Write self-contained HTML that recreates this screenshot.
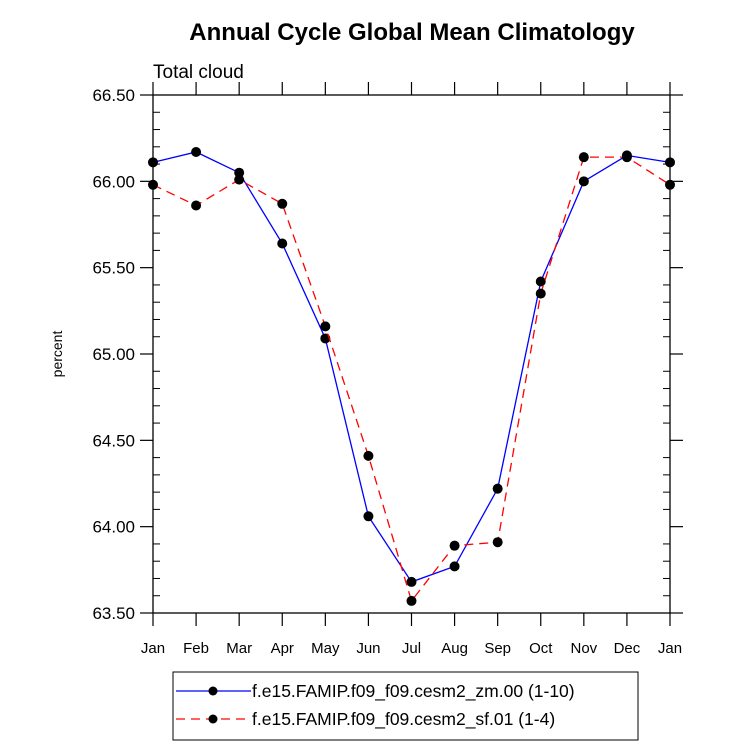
<!DOCTYPE html>
<html><head><meta charset="utf-8"><style>
body{margin:0;background:#fff}
svg{display:block;font-family:"Liberation Sans",sans-serif}
</style></head><body>
<svg id="c" width="733" height="748">
<text x="412" y="40" text-anchor="middle" font-size="24" font-weight="bold">Annual Cycle Global Mean Climatology</text>
<text x="153" y="78" font-size="19">Total cloud</text>
<text transform="translate(62,354) rotate(-90)" text-anchor="middle" font-size="14">percent</text>
<g id="axes"></g><g id="series"></g>
<g>
<rect x="173" y="672" width="465" height="68" fill="#fff" stroke="#000" stroke-width="1"/>
<g><line x1="176" y1="691" x2="251" y2="691" stroke="#00f" stroke-width="1.3"/><circle cx="213" cy="691" r="4.5"/><text x="252" y="697" font-size="17.5">f.e15.FAMIP.f09_f09.cesm2_zm.00 (1-10)</text></g>
<g><line x1="176" y1="719" x2="251" y2="719" stroke="#f00" stroke-width="1.3" stroke-dasharray="9,6"/><circle cx="213" cy="719" r="4.5"/><text x="252" y="725" font-size="17.5">f.e15.FAMIP.f09_f09.cesm2_sf.01 (1-4)</text></g>
</g>
</svg>
<script>
const months=["Jan","Feb","Mar","Apr","May","Jun","Jul","Aug","Sep","Oct","Nov","Dec","Jan"];
const zmValues=[66.11,66.17,66.05,65.64,65.09,64.06,63.68,63.77,64.22,65.42,66.00,66.15,66.11];
const sfValues=[65.98,65.86,66.01,65.87,65.16,64.41,63.57,63.89,63.91,65.35,66.14,66.14,65.98];
const yTickLabels=["63.50","64.00","64.50","65.00","65.50","66.00","66.50"];
const NS="http://www.w3.org/2000/svg";
const L=153,R=670,T=95,B=613,ymin=63.5,ymax=66.5;
const xs=i=>L+(R-L)*i/(months.length-1);
const ys=v=>B-(B-T)*(v-ymin)/(ymax-ymin);
function mk(tag,at,parent){const e=document.createElementNS(NS,tag);for(const k in at)e.setAttribute(k,at[k]);parent.appendChild(e);return e;}
const ax=document.getElementById('axes');
const fr=mk('rect',{x:L,y:T,width:R-L,height:B-T,fill:'none',stroke:'#000','stroke-width':1.3},ax);


months.forEach((m,i)=>{const x=xs(i);
mk('line',{x1:x,y1:B,x2:x,y2:B+13,stroke:'#000','stroke-width':1.2},ax);
mk('line',{x1:x,y1:T,x2:x,y2:T-13,stroke:'#000','stroke-width':1.2},ax);
const t=mk('text',{x:x,y:B+40,'text-anchor':'middle','font-size':15},ax);t.textContent=m;

});
for(let k=0;k<=30;k++){const v=ymin+k*0.1,y=ys(v);
if(k%5===0){mk('line',{x1:L,y1:y,x2:L-13,y2:y,stroke:'#000','stroke-width':1.2},ax);
mk('line',{x1:R,y1:y,x2:R+13,y2:y,stroke:'#000','stroke-width':1.2},ax);}
else{mk('line',{x1:L,y1:y,x2:L+7,y2:y,stroke:'#000','stroke-width':1},ax);
mk('line',{x1:R,y1:y,x2:R-7,y2:y,stroke:'#000','stroke-width':1},ax);}}
yTickLabels.forEach(s=>{const t=mk('text',{x:L-18,y:ys(parseFloat(s))+6,'text-anchor':'end','font-size':17},ax);t.textContent=s;

});
const sg=document.getElementById('series');
function draw(vals,color,dash,name){
const p=mk('polyline',{points:vals.map((v,i)=>xs(i)+','+ys(v)).join(' '),fill:'none',stroke:color,'stroke-width':1.3,'stroke-dasharray':dash},sg);


vals.forEach((v,i)=>{const c=mk('circle',{cx:xs(i),cy:ys(v),r:5,fill:'#000'},sg);

});}
draw(zmValues,'#00f','none','zm-series');
draw(sfValues,'#f00','9,6','sf-series');
</script>
</body></html>
